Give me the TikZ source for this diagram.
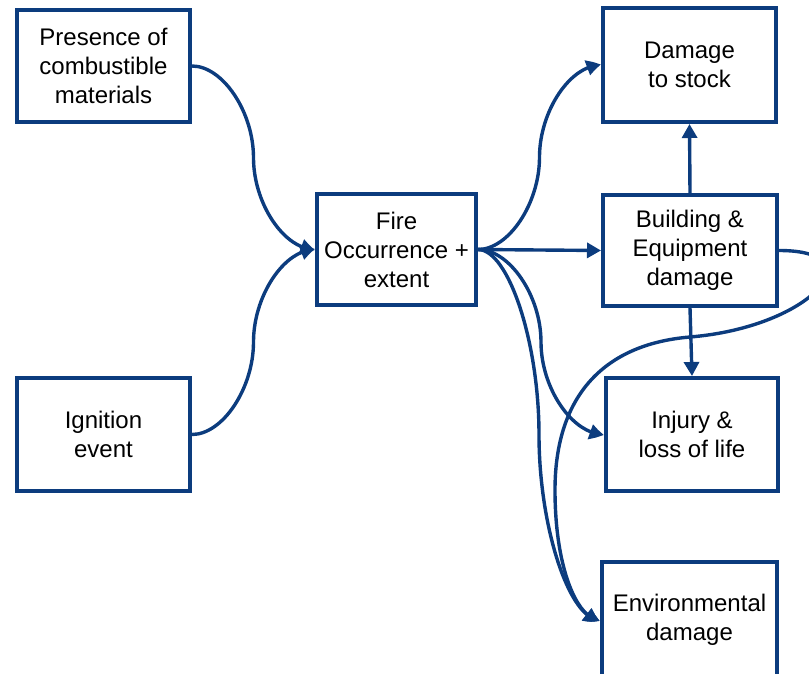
\documentclass[tikz,border=0pt]{standalone}
\usepackage{fontspec}
\setmainfont{Liberation Sans}
\usetikzlibrary{arrows.meta,bending,calc}
\definecolor{linkblue}{RGB}{12,60,126}
\begin{document}
\begin{tikzpicture}[x=0.5pt,y=-0.5pt,
  box/.style={draw=linkblue,line width=2pt,fill=white,
    minimum width=86.5pt,minimum height=56pt,inner sep=0pt,
    align=center,font=\fontsize{12}{14.5}\selectfont},
  link/.style={draw=linkblue,line width=1.7pt,
    -{Triangle[length=7pt,width=7.5pt,bend]}},
  % curved connector: two cubic halves meeting vertically at the midpoint
  scurve/.style={to path={let \p1=(\tikztostart), \p2=(\tikztotarget) in
     .. controls ({(3*\x1+\x2)/4},\y1) and ({(\x1+\x2)/2},{(3*\y1+\y2)/4})
     .. ({(\x1+\x2)/2},{(\y1+\y2)/2})
     .. controls ({(\x1+\x2)/2},{(\y1+3*\y2)/4}) and ({(\x1+3*\x2)/4},\y2)
     .. (\tikztotarget) \tikztonodes}}
]
\useasboundingbox (0,0) rectangle (809,674);
\clip (0,0) rectangle (809,674);

% boxes
\node[box] (pres) at (103.5,66) {Presence of\\combustible\\materials};
\node[box,minimum height=56.5pt] (ign) at (103.5,434.5) {Ignition\\event};
\node[box,minimum width=79.5pt,minimum height=55.5pt] (fire) at (396.5,249.5) {Fire\\Occurrence +\\extent};
\node[box,minimum height=57pt] (stock) at (689.5,65) {Damage\\to stock};
\node[box,minimum width=87pt,minimum height=55.5pt] (bld) at (690,250.5) {Building \&\\Equipment\\damage};
\node[box,minimum width=86pt,minimum height=56.5pt] (inj) at (692,434.5) {Injury \&\\loss of life};
\node[box,minimum width=87.5pt,minimum height=58pt] (env) at (689.5,620) {Environmental\\damage};

% way points of the loop from the building box
\coordinate (loopA) at (690,337);
\coordinate (loopB) at (555,490);

% connectors
\draw[link] (pres.east) to[scurve] (fire.west);
\draw[link] (ign.east) to[scurve] (fire.west);
\draw[link] (fire.east) to[scurve] (stock.west);
\draw[link] (fire.east) -- (bld.west);
\draw[link] (fire.east) to[scurve] (inj.west);
\draw[link] (fire.east) to[scurve] (env.west);
\draw[link] (bld.north) -- (stock.south);
\draw[link] (bld.south) -- (inj.north);
\draw[link] (bld.east) .. controls +(98,0) and +(122,-10) .. (loopA)
  .. controls +(-90,7.5) and +(0,-90) .. (loopB)
  .. controls +(0,80) and +(-22,0) .. (env.west);
\end{tikzpicture}
\end{document}
